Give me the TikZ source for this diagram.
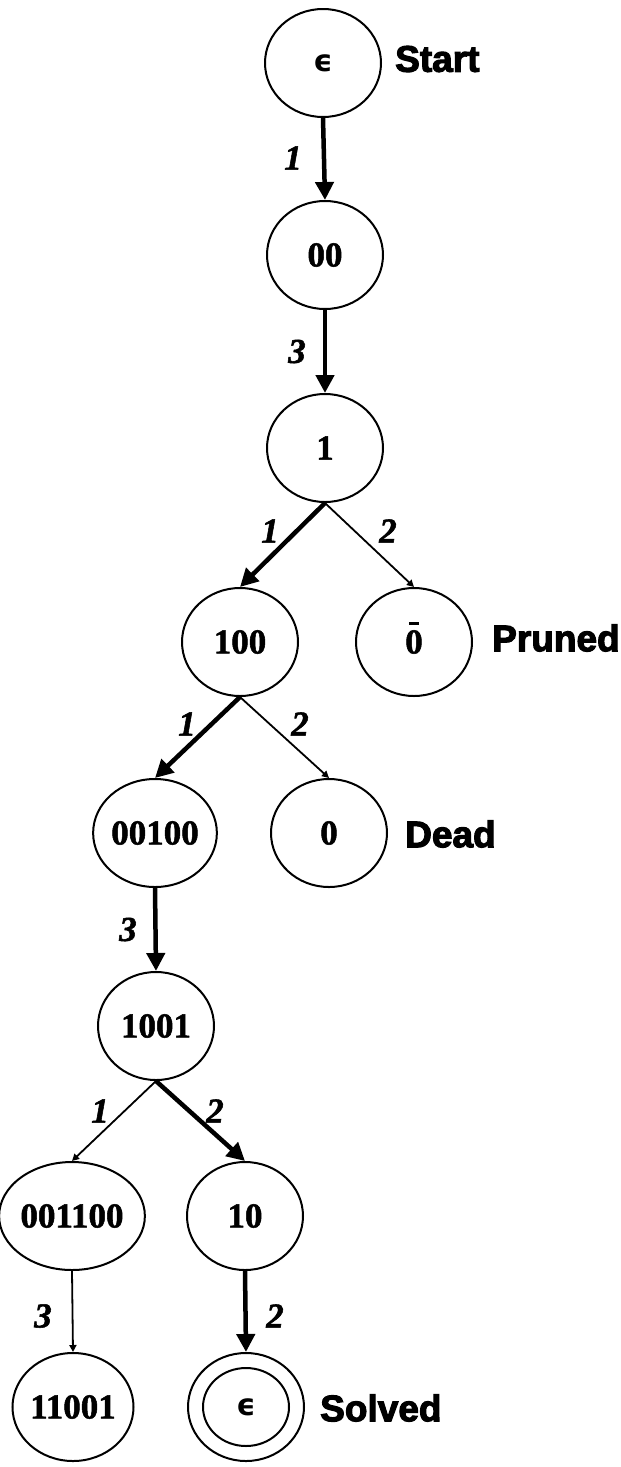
\documentclass[tikz,border=0pt]{standalone}
\usepackage{fontspec}
\setmainfont{Liberation Serif}
\newfontfamily\tagfont{Liberation Sans Bold}[FakeBold=3]
\newfontfamily\numfont{Liberation Serif Bold}[FakeBold=1.5]
\newfontfamily\numitfont{Liberation Serif Bold Italic}[FakeBold=1.5]
\newfontfamily\epsfont{DejaVu Sans Bold}
\usetikzlibrary{shapes.geometric,arrows.meta}

% overlined zero for the pruned state
\newcommand{\zerobar}{\makebox[0pt][l]{\hspace{0.1em}\smash{\rule[0.8em]{0.3em}{0.1em}}}0}
\newcommand{\emptyword}{{\epsfont\fontsize{30}{30}\selectfont ϵ}}

\tikzset{
  state/.style={ellipse, draw, line width=2pt, minimum width=116pt, minimum height=108pt,
                inner sep=0pt, font=\fontsize{35}{35}\selectfont\numfont},
  inner ring/.style={ellipse, draw, line width=2pt, minimum width=86pt, minimum height=78pt,
                inner sep=0pt},
  chosen/.style={line width=4.5pt, -{Triangle[length=18pt,width=18pt]}},
  tried/.style={line width=1.8pt, -{Triangle[length=7pt,width=7pt]}},
  lab/.style={font=\fontsize{35}{35}\selectfont\numitfont, inner sep=0pt},
  tag/.style={font=\fontsize{37}{37}\selectfont\tagfont, anchor=west, inner sep=0pt},
}

\begin{document}
\begin{tikzpicture}[x=1pt,y=-1pt]
\useasboundingbox (0,0) rectangle (621,1467);

% states
\node[state] (s) at (323,63)   {\emptyword};
\node[state] (a) at (325,255)  {00};
\node[state] (b) at (325,448)  {1};
\node[state] (c) at (240,642)  {100};
\node[state] (d) at (414,642)  {\zerobar};
\node[state] (e) at (155,833)  {00100};
\node[state] (f) at (329,833)  {0};
\node[state] (g) at (156,1026) {1001};
\node[state] (h) at (72,1216)  {001100};
\node[state] (i) at (245,1216) {10};
\node[state] (j) at (73,1407)  {11001};
\node[state] (k) at (246,1407) {\emptyword};
\node[inner ring] (k2) at (k) {};

% status tags
\node[tag] (t1) at (395,59)   {Start};
\node[tag] (t2) at (492,638)  {Pruned};
\node[tag] (t3) at (405,834)  {Dead};
\node[tag] (t4) at (320,1408) {Solved};

% transitions
\draw[chosen] (s.south) -- node[lab, xshift=-31pt, yshift=1pt] {1} (a.north);
\draw[chosen] (a.south) -- node[lab, xshift=-28pt] {3} (b.north);
\draw[chosen] (b.south) -- node[lab, xshift=-12.5pt, yshift=14pt] {1} (c.north);
\draw[tried]  (b.south) -- node[lab, xshift=18.5pt, yshift=14pt] {2} (d.north);
\draw[chosen] (c.south) -- node[lab, xshift=-10.5pt, yshift=13.5pt] {1} (e.north);
\draw[tried]  (c.south) -- node[lab, xshift=15.5pt, yshift=13.5pt] {2} (f.north);
\draw[chosen] (e.south) -- node[lab, xshift=-27.5pt] {3} (g.north);
\draw[tried]  (g.south) -- node[lab, xshift=-14pt, yshift=10pt] {1} (h.north);
\draw[chosen] (g.south) -- node[lab, xshift=14.5pt, yshift=10pt] {2} (i.north);
\draw[tried]  (h.south) -- node[lab, xshift=-29.5pt, yshift=-4.5pt] {3} (j.north);
\draw[chosen] (i.south) -- node[lab, xshift=29.5pt, yshift=-4.5pt] {2} (k.north);
\end{tikzpicture}
\end{document}
